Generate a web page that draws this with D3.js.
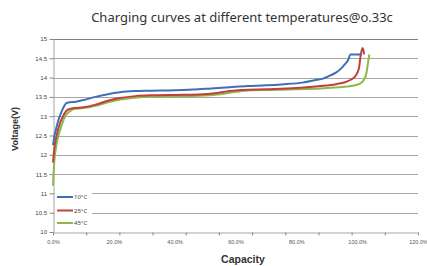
<!DOCTYPE html>
<html>
<head>
<meta charset="utf-8">
<script src="https://cdn.jsdelivr.net/npm/d3@7"></script>
<style>
  body { margin: 0; background: #fff; }
  svg { display: block; font-family: "Noto Sans", "DejaVu Sans", sans-serif; }
</style>
</head>
<body>
<svg width="427" height="266"></svg>
<script>
// capacity (%) and voltage (V)
var cap10 = [0, 0.5, 1.2, 2, 3, 4.3, 5.5, 7, 10, 14, 18, 22, 27, 32, 40, 46, 52, 58, 64, 70, 76, 82, 86, 89, 91, 93, 94.5, 96, 97, 97.8, 101.5];
var v10 = [12.25, 12.5, 12.73, 12.95, 13.15, 13.33, 13.36, 13.37, 13.42, 13.5, 13.57, 13.62, 13.65, 13.66, 13.67, 13.69, 13.72, 13.75, 13.78, 13.8, 13.83, 13.87, 13.93, 13.98, 14.05, 14.13, 14.22, 14.35, 14.45, 14.6, 14.6];

var cap25 = [0, 0.5, 1.2, 2, 3, 4, 5.2, 7, 10, 14, 18, 22, 27, 32, 40, 48, 54, 58, 62, 70, 80, 88, 93, 96, 98, 99.5, 100.6, 101.2, 101.8, 102.3];
var v25 = [11.8, 12.2, 12.5, 12.75, 12.95, 13.1, 13.18, 13.21, 13.23, 13.3, 13.4, 13.47, 13.52, 13.54, 13.55, 13.56, 13.6, 13.65, 13.68, 13.7, 13.73, 13.78, 13.83, 13.88, 13.95, 14.05, 14.25, 14.6, 14.77, 14.6];

var cap45 = [0, 0.4, 1, 2, 3, 4, 5.5, 7, 10, 14, 18, 22, 27, 32, 40, 48, 55, 60, 65, 72, 80, 88, 94, 98, 100.5, 102, 103, 103.5, 104];
var v45 = [11.2, 11.8, 12.2, 12.55, 12.8, 13.0, 13.12, 13.19, 13.21, 13.27, 13.36, 13.43, 13.48, 13.51, 13.52, 13.53, 13.57, 13.63, 13.67, 13.68, 13.7, 13.72, 13.75, 13.78, 13.83, 13.92, 14.1, 14.35, 14.6];

var seriesNames = ['10°C', '25°C', '45°C'];
var seriesColors = ['#3f6fb4', '#c0403c', '#8fb84a'];
var xLabels = [0, 20, 40, 60, 80, 100, 120];
var yTicks = [10, 10.5, 11, 11.5, 12, 12.5, 13, 13.5, 14, 14.5, 15];

var svg = d3.select('svg');
var plotLeft = 53, plotRight = 418, plotTop = 39, plotBottom = 232;

var x = d3.scaleLinear().domain([0, 120]).range([plotLeft, plotRight]);
var y = d3.scaleLinear().domain([10, 15]).range([plotBottom, plotTop]);

// title
svg.append('text').attr('x', 242).attr('y', 22).attr('text-anchor', 'middle')
  .attr('font-size', 13).attr('fill', '#333')
  .text('Charging curves at different temperatures@o.33c');

// gridlines
svg.append('g').selectAll('line').data(yTicks.slice(1)).join('line')
  .attr('x1', plotLeft).attr('x2', plotRight)
  .attr('y1', function(d){ return Math.round(y(d)) + 0.5; })
  .attr('y2', function(d){ return Math.round(y(d)) + 0.5; })
  .attr('stroke', function(d){ return d == 15 ? '#808080' : '#a6a6a6'; })
  .attr('stroke-width', 1);

// y axis
var yAxis = svg.append('g').attr('transform', 'translate(' + (plotLeft + 0.5) + ',0)')
  .call(d3.axisLeft(y).tickValues(yTicks).tickSize(4).tickSizeOuter(0).tickFormat(d3.format('')));
yAxis.select('.domain').attr('stroke', '#a6a6a6');
yAxis.selectAll('.tick line').attr('stroke', '#888');
yAxis.selectAll('text').attr('font-size', 6).attr('fill', '#444').attr('x', -6.5);

// x axis: tick marks and labels placed as in the reference
var tickScale = d3.scaleLinear().domain([0, 11]).range([plotLeft, plotRight]);
var xAxis = svg.append('g').attr('transform', 'translate(0,' + (plotBottom + 0.5) + ')');
xAxis.call(d3.axisBottom(tickScale).tickValues(d3.range(12)).tickSize(3).tickSizeOuter(0).tickFormat(''));
xAxis.select('.domain').attr('stroke', '#a6a6a6');
xAxis.selectAll('.tick line').attr('stroke', '#888');
var xLab = svg.append('g').attr('transform', 'translate(0,' + (plotBottom + 0.5) + ')')
  .call(d3.axisBottom(x).tickValues(xLabels).tickSize(0).tickFormat(function(d){ return d.toFixed(1) + '%'; }));
xLab.select('.domain').remove();
xLab.selectAll('text').attr('font-size', 5.5).attr('fill', '#555').attr('y', 8);

// axis titles
svg.append('text').attr('transform', 'translate(15,129) rotate(-90)').attr('text-anchor', 'middle')
  .attr('dy', '0.35em')
  .attr('font-size', 9).attr('font-weight', 'bold').attr('font-family', 'Liberation Sans, Arial, sans-serif')
  .attr('fill', '#333').text('Voltage(V)');
svg.append('text').attr('x', 243).attr('y', 263).attr('text-anchor', 'middle')
  .attr('font-size', 10.5).attr('font-weight', 'bold').attr('font-family', 'Liberation Sans, Arial, sans-serif')
  .attr('fill', '#333').text('Capacity');

// curves
var line = d3.line().x(function(d){ return x(d[0]); }).y(function(d){ return y(d[1]); })
  .curve(d3.curveMonotoneX);
var caps = [cap10, cap25, cap45];
var volts = [v10, v25, v45];
[2, 1, 0].forEach(function(i){
  svg.append('path').datum(d3.zip(caps[i], volts[i]))
    .attr('d', line).attr('fill', 'none')
    .attr('stroke', seriesColors[i]).attr('stroke-width', 2);
});

// legend
var leg = svg.append('g');
leg.append('rect').attr('x', 55).attr('y', 187).attr('width', 37).attr('height', 42).attr('fill', '#fff');
var legY = [197, 210.5, 223];
seriesNames.forEach(function(n, i){
  leg.append('line').attr('x1', 57).attr('x2', 73).attr('y1', legY[i]).attr('y2', legY[i])
    .attr('stroke', seriesColors[i]).attr('stroke-width', 2);
  leg.append('text').attr('x', 74).attr('y', legY[i] + 2).attr('font-size', 6).attr('fill', '#444').text(n);
});
</script>
</body>
</html>
